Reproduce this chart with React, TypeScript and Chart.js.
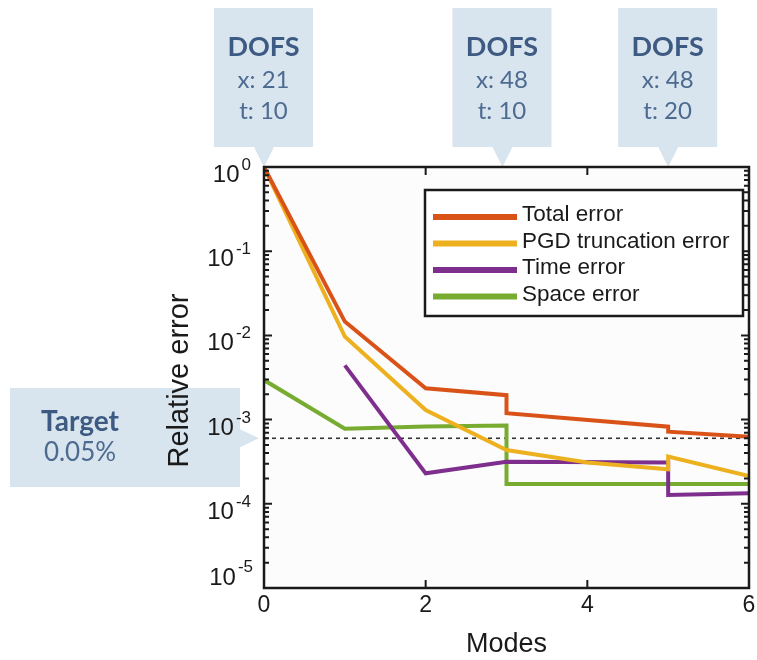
import React, { useEffect, useRef } from 'react';
import { Chart, registerables } from 'chart.js';

Chart.register(...registerables);

// ---------- data ----------
const seriesLabels = ['Total error', 'PGD truncation error', 'Time error', 'Space error'];
const seriesColors = ['#D95319', '#EDB120', '#7E2F8E', '#77AC30'];

const totalX = [0, 1, 2, 3, 3, 5, 5, 6];
const totalY = [1, 0.0146, 0.00235, 0.00195, 0.00119, 0.000824, 0.000718, 0.000626];

const pgdX = [0, 1, 2, 3, 4, 5, 5, 6];
const pgdY = [1, 0.0097, 0.0013, 0.000435, 0.00031, 0.000257, 0.000363, 0.000214];

const timeX = [1, 2, 3, 5, 5, 6];
const timeY = [0.0044, 0.00023, 0.000316, 0.000309, 0.000127, 0.000133];

const spaceX = [0, 1, 2, 3, 3, 6];
const spaceY = [0.00295, 0.00078, 0.00083, 0.00085, 0.000172, 0.000172];

const targetValue = 0.0006;
const targetTitle = 'Target';
const targetText = '0.05%';

const xTickValues = [0, 2, 4, 6];
const yDecades = [0, -1, -2, -3, -4, -5];

const dofsAt = [0, 2.95, 5];
const dofsX = [21, 48, 48];
const dofsT = [10, 10, 20];

const xTitle = 'Modes';
const yTitle = 'Relative error';

// ---------- helpers ----------
const zip = (xs: number[], ys: number[]) => xs.map((x, i) => ({ x, y: ys[i] }));
const seriesData = [zip(totalX, totalY), zip(pgdX, pgdY), zip(timeX, timeY), zip(spaceX, spaceY)];

const AXIS_FONT = '"Liberation Sans", Arial, Helvetica, sans-serif';
const CALLOUT_FONT = 'Lato, "Open Sans", sans-serif';
const CALLOUT_FILL = '#d8e4ee';
const CALLOUT_BOLD = '#3d5b82';
const CALLOUT_TEXT = '#4d6b90';

const decor = {
  id: 'decor',
  beforeDatasetsDraw(chart: any) {
    const { ctx, chartArea: a } = chart;
    ctx.save();
    ctx.fillStyle = '#fcfcfc';
    ctx.fillRect(a.left, a.top, a.right - a.left, a.bottom - a.top);
    ctx.restore();
  },
  afterDatasetsDraw(chart: any) {
    const { ctx, chartArea: a } = chart;
    const xs = chart.scales.x;
    const ys = chart.scales.y;
    ctx.save();

    // ---- DOFS callouts ----
    dofsAt.forEach((v, i) => {
      const tipX = xs.getPixelForValue(v);
      const tipY = a.top;
      const w = 99;
      const boxL = tipX - 50;
      const boxT = 8;
      const boxB = 147;
      ctx.fillStyle = CALLOUT_FILL;
      ctx.fillRect(boxL, boxT, w, boxB - boxT);
      ctx.beginPath();
      ctx.moveTo(tipX - 10, boxB);
      ctx.lineTo(tipX + 10, boxB);
      ctx.lineTo(tipX, tipY);
      ctx.closePath();
      ctx.fill();
      const cx = boxL + w / 2;
      ctx.textAlign = 'center';
      ctx.textBaseline = 'middle';
      ctx.fillStyle = CALLOUT_BOLD;
      ctx.font = `bold 27px ${CALLOUT_FONT}`;
      ctx.fillText('DOFS', cx, 47);
      ctx.fillStyle = CALLOUT_TEXT;
      ctx.font = `24px ${CALLOUT_FONT}`;
      ctx.fillText(`x: ${dofsX[i]}`, cx, 80);
      ctx.fillText(`t: ${dofsT[i]}`, cx, 111);
    });

    // ---- Target callout ----
    {
      const tipY = ys.getPixelForValue(targetValue);
      const tipX = a.left - 5;
      const boxL = 10;
      const boxR = 240;
      const boxT = 388;
      const boxB = 487;
      ctx.fillStyle = CALLOUT_FILL;
      ctx.fillRect(boxL, boxT, boxR - boxL, boxB - boxT);
      ctx.beginPath();
      ctx.moveTo(boxR, tipY - 9);
      ctx.lineTo(boxR, tipY + 9);
      ctx.lineTo(tipX, tipY);
      ctx.closePath();
      ctx.fill();
      ctx.textAlign = 'center';
      ctx.textBaseline = 'middle';
      ctx.fillStyle = CALLOUT_BOLD;
      ctx.font = `bold 28px ${CALLOUT_FONT}`;
      ctx.fillText(targetTitle, 80, 422);
      ctx.fillStyle = CALLOUT_TEXT;
      ctx.font = `26px ${CALLOUT_FONT}`;
      ctx.fillText(targetText, 80, 453);
    }

    // ---- axes box ----
    ctx.strokeStyle = '#1a1a1a';
    ctx.lineWidth = 2.5;
    ctx.strokeRect(a.left, a.top, a.right - a.left, a.bottom - a.top);

    // ---- y ticks (log, inward on both sides) ----
    ctx.lineWidth = 2;
    for (let d = 0; d > -5; d--) {
      for (let k = 1; k <= 9; k++) {
        const val = k * Math.pow(10, d - 1);
        const y = ys.getPixelForValue(val);
        const len = k === 1 ? 8 : 5;
        ctx.beginPath();
        ctx.moveTo(a.left, y);
        ctx.lineTo(a.left + len, y);
        ctx.moveTo(a.right, y);
        ctx.lineTo(a.right - len, y);
        ctx.stroke();
      }
    }
    {
      const y = ys.getPixelForValue(1);
      ctx.beginPath();
      ctx.moveTo(a.left, y);
      ctx.lineTo(a.left + 8, y);
      ctx.moveTo(a.right, y);
      ctx.lineTo(a.right - 8, y);
      ctx.stroke();
    }

    // ---- x ticks ----
    xTickValues.forEach((v) => {
      const x = xs.getPixelForValue(v);
      ctx.beginPath();
      ctx.moveTo(x, a.bottom);
      ctx.lineTo(x, a.bottom - 8);
      ctx.moveTo(x, a.top);
      ctx.lineTo(x, a.top + 8);
      ctx.stroke();
    });

    // ---- tick labels ----
    ctx.fillStyle = '#1a1a1a';
    ctx.textBaseline = 'alphabetic';
    ctx.textAlign = 'center';
    ctx.font = `23px ${AXIS_FONT}`;
    xTickValues.forEach((v) => {
      ctx.fillText(String(v), xs.getPixelForValue(v), 612);
    });

    yDecades.forEach((e, i) => {
      const y = ys.getPixelForValue(Math.pow(10, e));
      const last = i === yDecades.length - 1;
      const expStr = String(e);
      ctx.font = `17px ${AXIS_FONT}`;
      const ew = ctx.measureText(expStr).width;
      ctx.font = `24px ${AXIS_FONT}`;
      const bw = ctx.measureText('10').width;
      const right = last ? 253 : 251;
      const baseY = last ? y - 3 : y + 15;
      const expY = last ? y - 16 : y + 3;
      ctx.textAlign = 'left';
      ctx.fillText('10', right - ew - 2 - bw, baseY);
      ctx.font = `17px ${AXIS_FONT}`;
      ctx.fillText(expStr, right - ew, expY);
    });

    // ---- axis titles ----
    ctx.font = `27px ${AXIS_FONT}`;
    ctx.textAlign = 'center';
    ctx.textBaseline = 'alphabetic';
    ctx.fillText(xTitle, (a.left + a.right) / 2, 652);
    ctx.save();
    ctx.translate(188, (a.top + a.bottom) / 2 + 3);
    ctx.rotate(-Math.PI / 2);
    ctx.font = `29px ${AXIS_FONT}`;
    ctx.fillText(yTitle, 0, 0);
    ctx.restore();

    // ---- legend ----
    {
      const L = 425, R = 743, T = 190, B = 316;
      ctx.fillStyle = '#ffffff';
      ctx.fillRect(L, T, R - L, B - T);
      ctx.strokeStyle = '#1a1a1a';
      ctx.lineWidth = 2.5;
      ctx.strokeRect(L, T, R - L, B - T);
      const rows = [217, 243.5, 270, 296.5];
      seriesLabels.forEach((lab, i) => {
        ctx.strokeStyle = seriesColors[i];
        ctx.lineWidth = 6;
        ctx.beginPath();
        ctx.moveTo(433, rows[i]);
        ctx.lineTo(517, rows[i]);
        ctx.stroke();
        ctx.fillStyle = '#1a1a1a';
        ctx.font = `22.5px ${AXIS_FONT}`;
        ctx.textAlign = 'left';
        ctx.textBaseline = 'middle';
        ctx.fillText(lab, 522, rows[i] - 2);
      });
    }

    ctx.restore();
  },
};

export default function App() {
  const canvasRef = useRef<HTMLCanvasElement | null>(null);

  useEffect(() => {
    if (!canvasRef.current) return;
    const datasets: any[] = seriesData.map((d, i) => ({
      label: seriesLabels[i],
      data: d,
      borderColor: seriesColors[i],
      backgroundColor: seriesColors[i],
      borderWidth: 4,
      pointRadius: 0,
      tension: 0,
      fill: false,
      borderJoinStyle: 'miter',
    }));
    datasets.push({
      label: 'target',
      data: [
        { x: 0, y: targetValue },
        { x: 6, y: targetValue },
      ],
      borderColor: '#333333',
      borderWidth: 1.6,
      borderDash: [4, 4],
      pointRadius: 0,
      fill: false,
    });

    const chart = new Chart(canvasRef.current, {
      type: 'line',
      data: { datasets },
      options: {
        animation: false,
        responsive: false,
        maintainAspectRatio: false,
        layout: { padding: { left: 264, right: 8, top: 167, bottom: 72 } },
        plugins: { legend: { display: false }, tooltip: { enabled: false } },
        scales: {
          x: { type: 'linear', min: 0, max: 6, display: false },
          y: { type: 'logarithmic', min: 1e-5, max: 1, display: false },
        },
      },
      plugins: [decor],
    });
    return () => chart.destroy();
  }, []);

  return (
    <div style={{ position: 'absolute', left: 0, top: 0, width: 757, height: 660, background: '#fff' }}>
      <canvas ref={canvasRef} width={757} height={660} style={{ display: 'block' }} />
    </div>
  );
}
